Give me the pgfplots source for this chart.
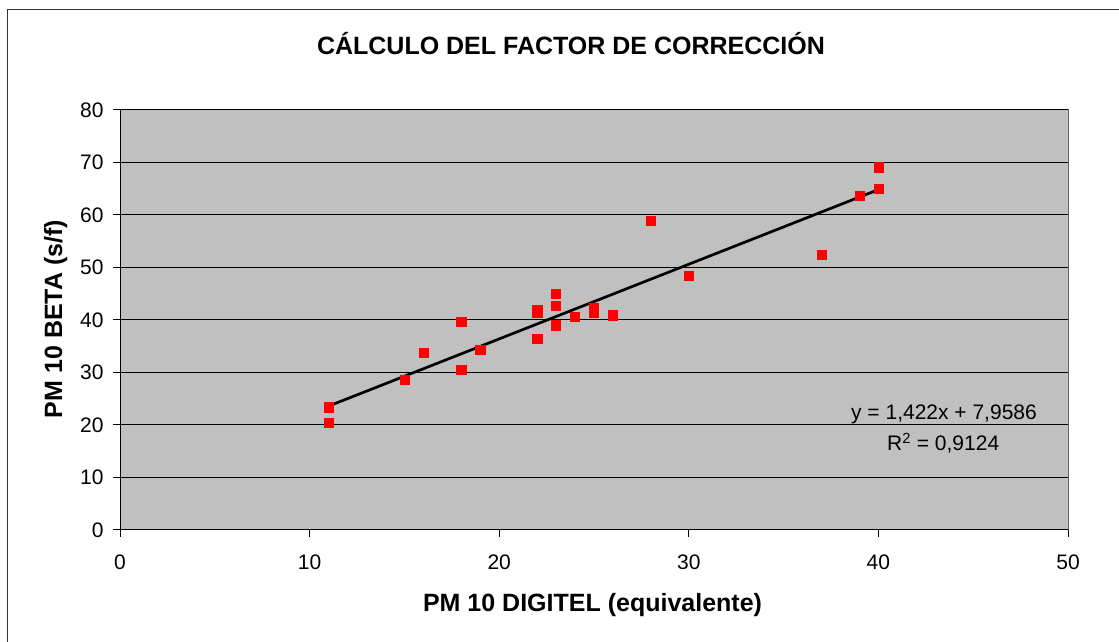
\documentclass[border=0pt]{standalone}
\usepackage{fontspec}
\setmainfont{Liberation Sans}
\usepackage{pgfplots}
\pgfplotsset{compat=1.18}
\definecolor{plotgray}{RGB}{192,192,192}
\begin{document}
\begin{tikzpicture}[x=1pt,y=1pt]
\useasboundingbox (0,0) rectangle (1119,642);
\draw[line width=1.5pt, black!80] (7.5,0) -- (7.5,632.5) -- (1119,632.5);
\begin{axis}[
  at={(120pt,112pt)}, anchor=south west,
  width=948pt, height=420pt, scale only axis,
  xmin=0, xmax=50, ymin=0, ymax=80,
  xtick={0,10,...,50}, ytick={0,10,...,80},
  axis x line*=bottom, axis y line*=left,
  axis line style={black, line width=1pt, -},
  axis background/.style={fill=plotgray, draw=gray!80!black, line width=1pt},
  ymajorgrids, major grid style={black, line width=1pt},
  tick align=outside, major tick length=7pt,
  tick style={black, line width=1pt},
  tick label style={font=\fontsize{21}{25}\selectfont},
  xticklabel style={yshift=-14pt},
  yticklabel style={xshift=-6pt},
  /pgf/number format/assume math mode=true,
  clip=false,
]
\addplot[only marks, mark=square*, mark size=4.6pt, color=red, fill=red] coordinates {
(11,23.4) (11,20.4) (15,28.7) (16,33.7) (18,39.6) (18,30.5) (19,34.3)
(22,41.4) (22,41.9) (22,36.4) (23,45.0) (23,42.7) (23,39.0) (24,40.6)
(25,41.5) (25,42.4) (26,40.9) (28,58.9) (30,48.4) (37,52.4) (39,63.6)
(40,65.0) (40,69.1)
};
\addplot[black, line width=2.7pt] coordinates {(11,23.60) (40,64.84)};
\end{axis}
\node[anchor=base, font=\fontsize{25}{30}\selectfont\bfseries] at (571,587) {CÁLCULO DEL FACTOR DE CORRECCIÓN};
\node[anchor=base, font=\fontsize{25}{30}\selectfont\bfseries] at (592.5,30) {PM 10 DIGITEL (equivalente)};
\node[anchor=base, rotate=90, font=\fontsize{25}{30}\selectfont\bfseries] at (62,323) {PM 10 BETA (s/f)};
\node[anchor=base east, inner sep=0pt, font=\fontsize{21}{25}\selectfont] at (1037,222) {y = 1,422x + 7,9586};
\node[anchor=base west, inner sep=0pt, font=\fontsize{21}{25}\selectfont] at (887,191) {R\textsuperscript{2} = 0,9124};
\end{tikzpicture}
\end{document}
